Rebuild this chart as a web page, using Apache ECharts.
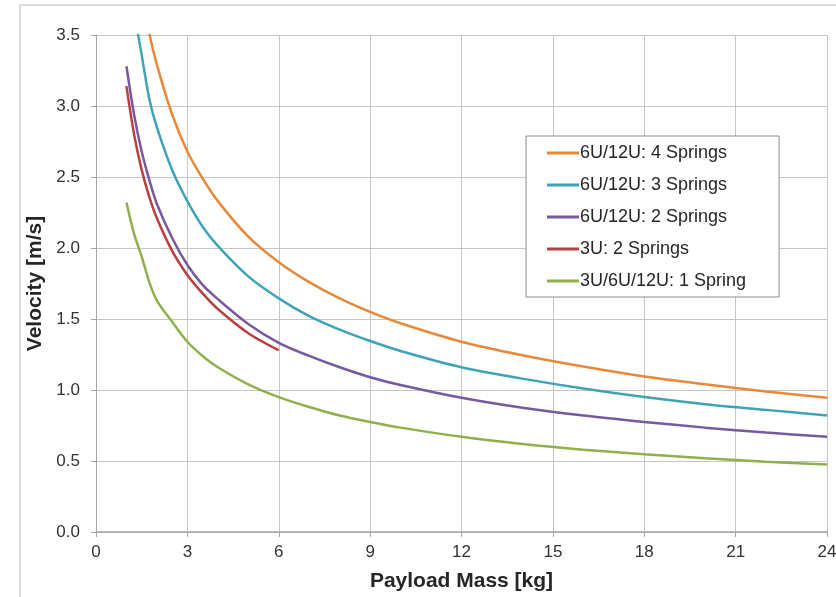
<!DOCTYPE html>
<html lang="en">
<head>
<meta charset="UTF-8">
<title>Velocity vs payload mass</title>
<script src="https://cdn.jsdelivr.net/npm/echarts@6.0.0/dist/echarts.min.js"></script>
<style>
  html, body { margin: 0; padding: 0; background: #fff; }
  #chart { width: 836px; height: 597px; }
</style>
</head>
<body>
<div id="chart"></div>
<script>
// payload mass [kg]
const mass = [1, 1.25, 1.5, 1.75, 2, 2.5, 3, 3.5, 4, 5, 6, 7, 8, 9, 10, 12, 14, 16, 18, 20, 22, 24];
// velocity [m/s] per configuration
const fourSprings = [4.65, 4.16, 3.80, 3.51, 3.29, 2.94, 2.68, 2.49, 2.33, 2.08, 1.90, 1.76, 1.645, 1.55, 1.47, 1.34, 1.245, 1.165, 1.095, 1.04, 0.99, 0.945];
const threeSprings = [4.20, 3.68, 3.36, 3.05, 2.85, 2.55, 2.33, 2.15, 2.015, 1.80, 1.645, 1.52, 1.425, 1.345, 1.275, 1.16, 1.08, 1.01, 0.95, 0.90, 0.86, 0.82];
const twoSprings = [3.28, 2.94, 2.68, 2.48, 2.31, 2.07, 1.88, 1.74, 1.64, 1.465, 1.332, 1.24, 1.16, 1.09, 1.035, 0.945, 0.875, 0.82, 0.775, 0.735, 0.70, 0.67];
const threeUTwoSprings = [3.14, 2.80, 2.55, 2.36, 2.21, 1.98, 1.81, 1.68, 1.57, 1.40, 1.28];
const oneSpring = [2.32, 2.10, 1.94, 1.76, 1.63, 1.48, 1.34, 1.24, 1.16, 1.04, 0.95, 0.88, 0.82, 0.775, 0.735, 0.67, 0.62, 0.58, 0.548, 0.52, 0.495, 0.475];

const names = ['6U/12U: 4 Springs', '6U/12U: 3 Springs', '6U/12U: 2 Springs', '3U: 2 Springs', '3U/6U/12U: 1 Spring'];
const colors = ['#E8893A', '#3FA3B8', '#7659A0', '#B8413F', '#8FB14C'];
const values = [fourSprings, threeSprings, twoSprings, threeUTwoSprings, oneSpring];

const pairs = v => v.map((y, i) => [mass[i], y]);

const chart = echarts.init(document.getElementById('chart'), null, { renderer: 'canvas' });
chart.setOption({
  backgroundColor: '#fff',
  animation: false,
  textStyle: { fontFamily: 'Liberation Sans, Arial, sans-serif' },
  graphic: [{
    type: 'rect',
    shape: { x: 20, y: 5, width: 840, height: 620 },
    style: { fill: 'none', stroke: '#d4d4d4', lineWidth: 1.5 },
    silent: true
  }],
  grid: { left: 96, right: 9, top: 35, bottom: 65, outerBoundsMode: 'none' },
  legend: {
    orient: 'vertical',
    left: 526,
    top: 136,
    padding: [8, 33, 7, 21],
    itemGap: 14,
    itemWidth: 32,
    itemHeight: 3,
    icon: 'rect',
    borderColor: '#8c8c8c',
    borderWidth: 1,
    borderRadius: 0,
    backgroundColor: '#fff',
    textStyle: { fontSize: 18, lineHeight: 18, color: '#262626', padding: [0, 0, 0, -4] },
    data: names
  },
  xAxis: {
    type: 'value',
    min: 0, max: 24, interval: 3,
    name: 'Payload Mass [kg]',
    nameLocation: 'middle',
    nameGap: 39,
    nameTextStyle: { fontSize: 21, fontWeight: 'bold', color: '#262626' },
    axisLine: { show: true, lineStyle: { color: '#a6a6a6', width: 1.5 } },
    axisTick: { show: true, length: 5, lineStyle: { color: '#a6a6a6' } },
    axisLabel: { fontSize: 17, color: '#333', margin: 12 },
    splitLine: { show: true, lineStyle: { color: '#c6c6c6', width: 1 } }
  },
  yAxis: {
    type: 'value',
    min: 0, max: 3.5, interval: 0.5,
    name: 'Velocity [m/s]',
    nameLocation: 'middle',
    nameGap: 50,
    nameTextStyle: { fontSize: 21, fontWeight: 'bold', color: '#262626' },
    axisLine: { show: true, lineStyle: { color: '#a6a6a6', width: 1 } },
    axisTick: { show: true, length: 5, lineStyle: { color: '#a6a6a6' } },
    axisLabel: { fontSize: 17, color: '#333', margin: 16, formatter: v => v.toFixed(1) },
    splitLine: { show: true, lineStyle: { color: '#c6c6c6', width: 1 } }
  },
  series: values.map((v, i) => ({
    name: names[i],
    type: 'line',
    data: pairs(v),
    smooth: 0.3,
    symbol: 'none',
    clip: true,
    lineStyle: { color: colors[i], width: 2.5 },
    itemStyle: { color: colors[i] }
  }))
});
</script>
</body>
</html>
